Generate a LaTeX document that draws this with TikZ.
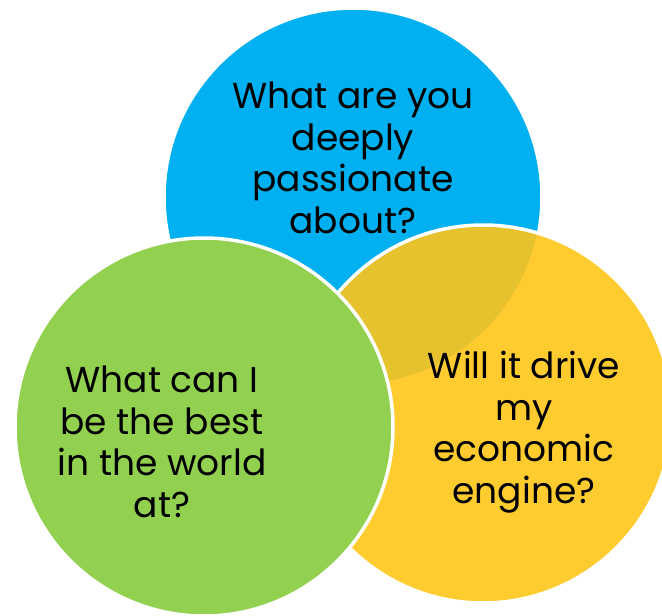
\documentclass[tikz,border=0pt]{standalone}
\usepackage{fontspec}
\setmainfont{Poppins}
\definecolor{cblue}{HTML}{00B0F0}
\definecolor{cyellow}{HTML}{FFC61A}
\definecolor{cgreen}{HTML}{92D050}
\tikzset{
  disc/.style={circle, minimum size=378pt, inner sep=0pt, draw=white, line width=3.5pt},
  label/.style={align=center, text=black, inner sep=0pt, font=\fontsize{36}{41.5}\selectfont},
}
\begin{document}
\begin{tikzpicture}[x=1pt,y=-1pt]
\useasboundingbox (0,0) rectangle (662,616);
\node[disc, fill=cblue] (blue) at (353,197) {};
\node[disc, fill=cyellow, fill opacity=0.9] (yellow) at (483,414) {};
\node[disc, fill=cgreen] (green) at (204,427) {};
\node[label] (tblue) at (353,158) {What are you\\deeply\\passionate\\about?};
\node[label] (tgreen) at (162,442) {What can I\\be the best\\in the world\\at?};
\node[label] (tyellow) at (524,432) {Will it drive\\my\\economic\\engine?};
\end{tikzpicture}
\end{document}
